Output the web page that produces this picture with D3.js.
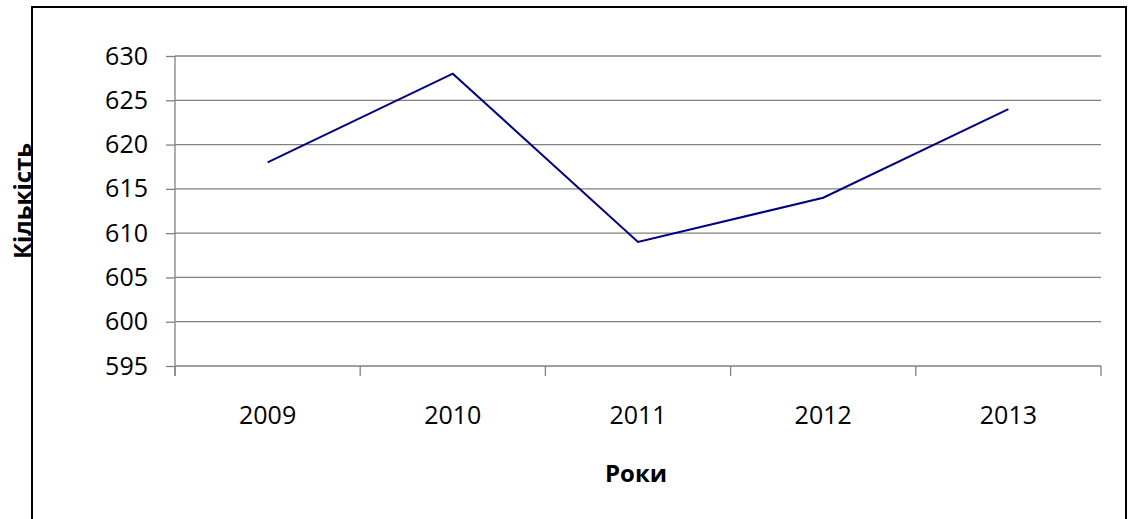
<!DOCTYPE html>
<html>
<head>
<meta charset="utf-8">
<script src="https://cdn.jsdelivr.net/npm/d3@7"></script>
<style>
html,body{margin:0;padding:0;background:#fff;}
svg{display:block;}
</style>
</head>
<body>
<svg id="chart" width="1130" height="519"></svg>
<script>
const years = ["2009", "2010", "2011", "2012", "2013"];
const counts = [618, 628, 609, 614, 624];
const yTicks = [595, 600, 605, 610, 615, 620, 625, 630];
const xTitle = "Роки";
const yTitle = "Кількість";

(function () {
const svg = d3.select("#chart");
const font = "'Open Sans', sans-serif";

// outer frame
svg.append("rect")
  .attr("x", 32).attr("y", 7)
  .attr("width", 1094).attr("height", 540)
  .attr("fill", "none").attr("stroke", "#000").attr("stroke-width", 2);

const pL = 175, pR = 1101, pT = 56, pB = 366;

const x = d3.scaleBand().domain(years).range([pL, pR]).paddingInner(0).paddingOuter(0);
const y = d3.scaleLinear().domain([595, 630]).range([pB, pT]);

// y ticks
const yAxis = d3.axisLeft(y).tickValues(yTicks).tickSize(9).tickPadding(18).tickFormat(d3.format("d"));
const gy = svg.append("g").attr("transform", `translate(${pL},0)`).call(yAxis);
gy.select(".domain").remove();
gy.selectAll(".tick line").attr("stroke", "#808080").attr("stroke-width", 1.3);
gy.selectAll(".tick text").attr("font-family", font).attr("font-size", 25).attr("fill", "#000");

// gridlines
svg.append("g").selectAll("line").data(yTicks).join("line")
  .attr("x1", pL).attr("x2", pR)
  .attr("y1", d => y(d)).attr("y2", d => y(d))
  .attr("stroke", "#808080").attr("stroke-width", 1.3);

// y axis vertical line
svg.append("line").attr("x1", pL).attr("x2", pL).attr("y1", pT).attr("y2", pB + 10)
  .attr("stroke", "#808080").attr("stroke-width", 1.3);

// x axis ticks at band boundaries
const bounds = years.map(d => x(d)).concat([pR]);
svg.append("g").selectAll("line").data(bounds).join("line")
  .attr("x1", d => d).attr("x2", d => d).attr("y1", pB).attr("y2", pB + 10)
  .attr("stroke", "#808080").attr("stroke-width", 1.3);

// x labels
svg.append("g").selectAll("text").data(years).join("text")
  .attr("x", d => x(d) + x.bandwidth() / 2)
  .attr("y", 424)
  .attr("text-anchor", "middle")
  .attr("font-family", font).attr("font-size", 25).attr("fill", "#000")
  .text(d => d);

// line
const line = d3.line().x((d, i) => x(years[i]) + x.bandwidth() / 2).y(d => y(d));
svg.append("path").datum(counts)
  .attr("d", line)
  .attr("fill", "none").attr("stroke", "#000080").attr("stroke-width", 2);

// titles
svg.append("text").attr("x", 636).attr("y", 482)
  .attr("text-anchor", "middle")
  .attr("font-family", font).attr("font-weight", "bold").attr("font-size", 24)
  .text(xTitle);

svg.append("text")
  .attr("transform", "translate(31,201) rotate(-90)")
  .attr("text-anchor", "middle")
  .attr("font-family", font).attr("font-weight", "bold").attr("font-size", 24)
  .text(yTitle);
})();
</script>
</body>
</html>
